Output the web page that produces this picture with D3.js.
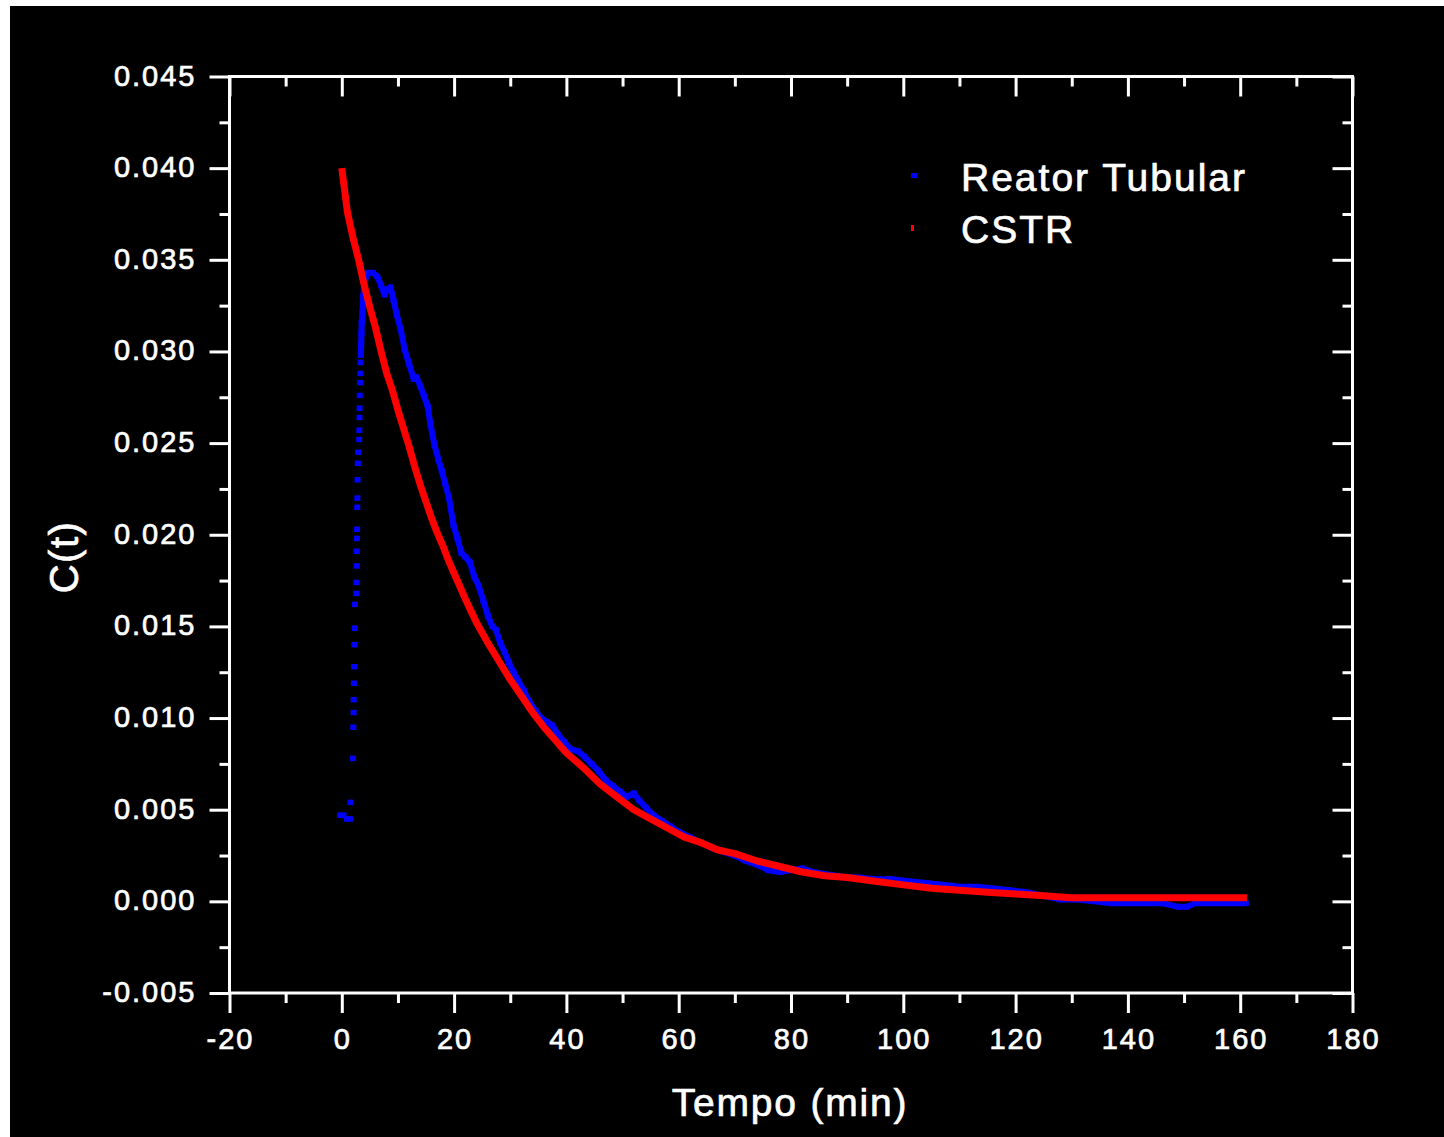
<!DOCTYPE html>
<html>
<head>
<meta charset="utf-8">
<script src="https://cdn.jsdelivr.net/npm/d3@7"></script>
<style>
  html, body { margin: 0; padding: 0; background: #fff; }
  svg { display: block; }
  text { font-family: "Liberation Sans", Arial, sans-serif; fill: #fff; stroke: #fff; stroke-width: 0.7px; }
</style>
</head>
<body>
<svg id="chart" width="1444" height="1137"></svg>
<script>
// ---- axis ticks -------------------------------------------------------
const xMajor = [-20, 0, 20, 40, 60, 80, 100, 120, 140, 160, 180];
const xMinor = [-10, 10, 30, 50, 70, 90, 110, 130, 150, 170];
const xTickLabels = ["-20", "0", "20", "40", "60", "80", "100", "120", "140", "160", "180"];
const yMajor = [-0.005, 0, 0.005, 0.010, 0.015, 0.020, 0.025, 0.030, 0.035, 0.040, 0.045];
const yMinor = [-0.0025, 0.0025, 0.0075, 0.0125, 0.0175, 0.0225, 0.0275, 0.0325, 0.0375, 0.0425];
const yTickLabels = ["-0.005", "0.000", "0.005", "0.010", "0.015", "0.020", "0.025", "0.030", "0.035", "0.040", "0.045"];

const seriesNames = ["Reator Tubular", "CSTR"];
const seriesColors = ["#0000ff", "#ff0000"];

// ---- Reator Tubular: tracer response C(t) vs tempo (min) ---------------
// sparse samples on the injection front, then the densely logged decay
const tubT = [
  -0.3, 0.3, 0.9, 1.5, 1.55, 2.0, 2.05, 2.1, 2.12, 2.15, 2.2, 2.25, 2.3, 2.35,
  2.6, 2.62, 2.65, 2.67, 2.7, 2.72, 2.75, 2.77, 2.8, 2.85, 2.9, 3.1, 3.12, 3.15, 3.17,
  3.2, 3.25, 3.3, 3.35, 3.4,
  3.45, 3.5, 3.55, 3.7, 3.8, 4.0, 4.6, 5.5, 6.3, 7.0, 7.6, 8.1, 8.7, 9.2, 9.8,
  10.5, 11.2, 12.0, 12.8, 13.3, 14.0, 14.6, 15.3, 15.8, 16.5, 17.2, 17.8, 18.4,
  19.1, 19.9, 20.6, 21.3, 22.0, 22.8, 23.6, 24.4, 25.2, 26.0, 26.8, 27.5, 28.2,
  29.0, 29.8, 30.6, 31.5, 32.4, 33.4, 34.5, 35.5, 36.5, 37.5, 38.5, 39.6, 40.8,
  42.0, 43.2, 44.5, 45.8, 47.0, 48.3, 49.5, 50.8, 52.0, 53.0, 54.2, 55.5, 57.0,
  58.5, 60.0, 62, 64, 66, 68, 70, 72, 74, 76, 78, 80, 82, 84, 86, 88, 90, 92,
  95, 98, 101, 104, 107, 110, 113, 116, 119, 122, 125, 128, 131, 134, 137, 140,
  143, 146, 149, 150.5, 152, 155, 158, 161
];
const tubC = [
  0.0047, 0.0047, 0.0045, 0.0045, 0.0054, 0.0078, 0.0095, 0.0103, 0.0110, 0.0119, 0.0128, 0.0140, 0.0149, 0.0162,
  0.0168, 0.0174, 0.0183, 0.0191, 0.0198, 0.0203, 0.0215, 0.0220, 0.0230, 0.0239, 0.0245, 0.0252, 0.0257, 0.0264, 0.0269,
  0.0276, 0.0283, 0.0288, 0.0294, 0.0298,
  0.0304, 0.0310, 0.0316, 0.0322, 0.0330, 0.0337, 0.0343, 0.0343, 0.0341, 0.0336, 0.0331, 0.0334, 0.0335, 0.0328, 0.0320,
  0.0312, 0.0301, 0.0293, 0.0285, 0.0286, 0.0281, 0.0276, 0.0270, 0.0260, 0.0249, 0.0241, 0.0235, 0.0228,
  0.0220, 0.0205, 0.0198, 0.0190, 0.0188, 0.0185, 0.0177, 0.0172, 0.0164, 0.0156, 0.0150, 0.0148, 0.0141,
  0.0136, 0.0130, 0.0125, 0.0120, 0.0115, 0.0109, 0.0104, 0.0100, 0.0098, 0.0096, 0.0091, 0.0087, 0.0083,
  0.0082, 0.0079, 0.0075, 0.0071, 0.0066, 0.0063, 0.0060, 0.0057, 0.0059, 0.0055, 0.0051, 0.0047, 0.0044,
  0.0041, 0.0038, 0.0035, 0.0032, 0.0029, 0.0027, 0.0025, 0.0022, 0.0020, 0.0017, 0.0016, 0.0017, 0.0018, 0.0016, 0.0015, 0.0014, 0.0013, 0.0013,
  0.0012, 0.0012, 0.0011, 0.0010, 0.0009, 0.0008, 0.0008, 0.0007, 0.0006, 0.0005, 0.0003, 0.0001, 0.0001, 0.0000, -0.0001, -0.0001,
  -0.0001, -0.0001, -0.0003, -0.0003, -0.0001, -0.0001, -0.0001, -0.0001
];
const tubDenseFrom = 3.4;   // samples after this time are close enough to read as a band

// ---- CSTR: tracer response C(t) vs tempo (min) ------------------------
const cstrT = [
  0, 1, 2, 3, 4, 5, 6, 7, 8, 9, 10, 11, 12, 13, 14, 15, 16, 17, 18, 19, 20,
  22, 24, 26, 28, 30, 32, 34, 36, 38, 40, 43, 46, 49, 52, 55, 58, 61, 64, 67,
  70, 74, 78, 82, 86, 90, 95, 100, 105, 110, 115, 120, 125, 130, 140, 150, 161.2
];
const cstrC = [
  0.0400, 0.0376, 0.0362, 0.0350, 0.0336, 0.0324, 0.0313, 0.0300, 0.0288, 0.0279, 0.0268,
  0.0258, 0.0248, 0.0237, 0.0227, 0.0218, 0.0209, 0.0201, 0.0194, 0.0186, 0.0179,
  0.0165, 0.0152, 0.0141, 0.0131, 0.0121, 0.0112, 0.0103, 0.0095, 0.0088, 0.0081,
  0.0073, 0.0064, 0.0057, 0.0050, 0.0045, 0.0040, 0.0035, 0.0032, 0.0028,
  0.0026, 0.0022, 0.0019, 0.0016, 0.0014, 0.0013, 0.0011, 0.0009, 0.00072, 0.0006,
  0.0005, 0.0004, 0.0003, 0.0002, 0.0002, 0.0002, 0.0002
];

// ---- layout -------------------------------------------------------------
const svg = d3.select("#chart");
const W = 1444, H = 1137;
const plot = { left: 229.5, right: 1352.5, top: 76.5, bottom: 993 };

svg.append("rect").attr("x", 10).attr("y", 6).attr("width", W - 10).attr("height", H - 6).attr("fill", "#000");

const x = d3.scaleLinear().domain([-20, 180]).range([plot.left, plot.right]);
const y = d3.scaleLinear().domain([-0.005, 0.045]).range([plot.bottom, plot.top]);

// ---- frame and ticks ------------------------------------------------------
function styleAxis(g) {
  g.select(".domain").remove();
  g.selectAll(".tick line").attr("stroke", "#fff").attr("stroke-width", 3);
  g.selectAll(".tick text").remove();
}
const axes = svg.append("g");
axes.append("g").attr("transform", `translate(0,${plot.bottom})`)
  .call(d3.axisBottom(x).tickValues(xMajor).tickSize(20)).call(styleAxis);
axes.append("g").attr("transform", `translate(0,${plot.bottom})`)
  .call(d3.axisBottom(x).tickValues(xMinor).tickSize(10)).call(styleAxis);
axes.append("g").attr("transform", `translate(0,${plot.top})`)
  .call(d3.axisTop(x).tickValues(xMajor).tickSize(-20)).call(styleAxis);
axes.append("g").attr("transform", `translate(0,${plot.top})`)
  .call(d3.axisTop(x).tickValues(xMinor).tickSize(-10)).call(styleAxis);
axes.append("g").attr("transform", `translate(${plot.left},0)`)
  .call(d3.axisLeft(y).tickValues(yMajor).tickSize(20)).call(styleAxis);
axes.append("g").attr("transform", `translate(${plot.left},0)`)
  .call(d3.axisLeft(y).tickValues(yMinor).tickSize(10)).call(styleAxis);
axes.append("g").attr("transform", `translate(${plot.right},0)`)
  .call(d3.axisRight(y).tickValues(yMajor).tickSize(-20)).call(styleAxis);
axes.append("g").attr("transform", `translate(${plot.right},0)`)
  .call(d3.axisRight(y).tickValues(yMinor).tickSize(-10)).call(styleAxis);

axes.append("rect")
  .attr("x", plot.left).attr("y", plot.top)
  .attr("width", plot.right - plot.left).attr("height", plot.bottom - plot.top)
  .attr("fill", "none").attr("stroke", "#fff").attr("stroke-width", 3);

// tick labels
svg.append("g").selectAll("text").data(xMajor).join("text")
  .attr("x", d => x(d) + 1).attr("y", plot.bottom + 56)
  .attr("text-anchor", "middle")
  .attr("font-size", 29).attr("letter-spacing", 2)
  .text((d, i) => xTickLabels[i]);

svg.append("g").selectAll("text").data(yMajor).join("text")
  .attr("x", plot.left - 33).attr("y", d => y(d) + 9)
  .attr("text-anchor", "end")
  .attr("font-size", 29).attr("letter-spacing", 2)
  .text((d, i) => yTickLabels[i]);

// axis titles
svg.append("text")
  .attr("x", 790).attr("y", 1116)
  .attr("text-anchor", "middle").attr("font-size", 39).attr("letter-spacing", 1.8)
  .text("Tempo (min)");
svg.append("text")
  .attr("transform", "translate(78,557) rotate(-90)")
  .attr("text-anchor", "middle").attr("font-size", 40).attr("letter-spacing", 1.5)
  .text("C(t)");

// ---- data -----------------------------------------------------------------
svg.append("defs").append("clipPath").attr("id", "plotclip")
  .append("rect").attr("x", plot.left).attr("y", plot.top)
  .attr("width", plot.right - plot.left).attr("height", plot.bottom - plot.top);

const dataG = svg.append("g").attr("clip-path", "url(#plotclip)");

const tub = tubT.map((t, i) => ({ t, c: tubC[i] }));
const cstr = cstrT.map((t, i) => ({ t, c: cstrC[i] }));

const line = d3.line().x(d => x(d.t)).y(d => y(d.c));

// Reator Tubular: dense band + individual markers
dataG.append("path")
  .datum(tub.filter(d => d.t >= tubDenseFrom))
  .attr("d", line)
  .attr("fill", "none").attr("stroke", seriesColors[0])
  .attr("stroke-width", 6).attr("stroke-linejoin", "round");
dataG.append("g").selectAll("rect").data(tub).join("rect")
  .attr("x", d => x(d.t) - 3).attr("y", d => y(d.c) - 2.75)
  .attr("width", 6).attr("height", 5.5)
  .attr("fill", seriesColors[0]);

// CSTR
dataG.append("path")
  .datum(cstr)
  .attr("d", line)
  .attr("fill", "none").attr("stroke", seriesColors[1])
  .attr("stroke-width", 7).attr("stroke-linejoin", "round");

// ---- legend ---------------------------------------------------------------
const legend = svg.append("g");
legend.append("rect").attr("x", 911).attr("y", 173).attr("width", 6).attr("height", 5).attr("fill", seriesColors[0]);
legend.append("rect").attr("x", 911).attr("y", 225).attr("width", 3).attr("height", 6).attr("fill", seriesColors[1]);
legend.selectAll("text").data(seriesNames).join("text")
  .attr("x", 961).attr("y", (d, i) => 191 + i * 52)
  .attr("font-size", 39).attr("letter-spacing", 2)
  .text(d => d);
</script>
</body>
</html>
